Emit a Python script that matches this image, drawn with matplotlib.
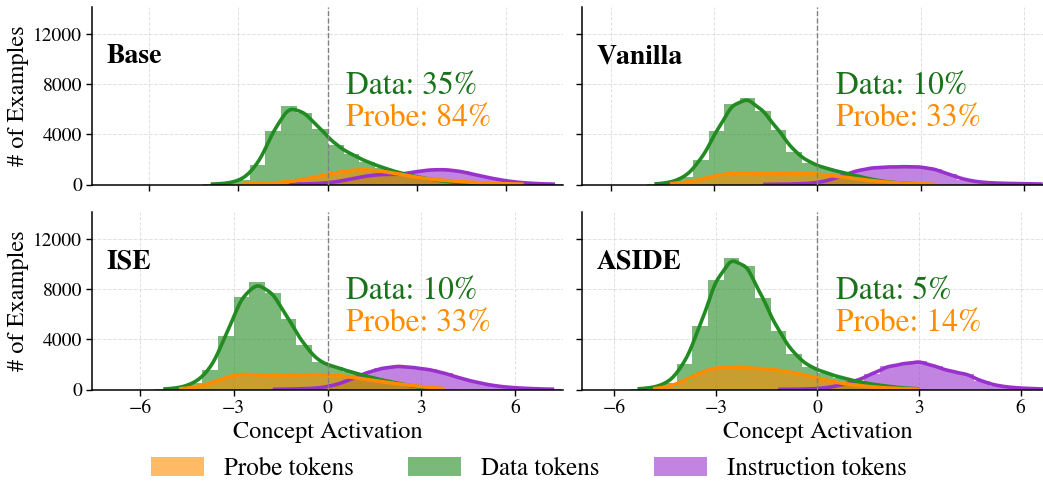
import numpy as np
import pandas as pd
import matplotlib
matplotlib.use("Agg")
import matplotlib.pyplot as plt
from matplotlib.patches import Patch
import seaborn as sns

plt.rcParams["font.family"] = ["STIXGeneral", "DejaVu Serif"]
plt.rcParams["mathtext.fontset"] = "stix"

# ---------------------------------------------------------------------------
# Histogram counts of concept activations per model (common bins per panel)
# ---------------------------------------------------------------------------
models = ["Base", "Vanilla", "ISE", "ASIDE"]
data_rates = ["35%", "10%", "10%", "5%"]
probe_rates = ["84%", "33%", "33%", "14%"]

base_bin_start, base_bin_width = -4.18, 0.525
base_data = [20, 80, 350, 1520, 4270, 6300, 5750, 4460, 3140, 2400, 1800, 1350,
             950, 650, 420, 250, 120, 40, 0, 0, 0, 0, 0]
base_probe = [0, 0, 30, 60, 120, 220, 420, 680, 950, 1150, 1200, 1050, 850,
              600, 420, 330, 230, 150, 90, 50, 25, 0, 0]
base_instr = [0, 0, 0, 0, 0, 20, 40, 80, 200, 450, 700, 820, 780, 1000, 1180,
              1200, 1050, 750, 480, 260, 130, 60, 25]

vanilla_bin_start, vanilla_bin_width = -5.412, 0.451
vanilla_data = [0, 30, 150, 600, 1960, 4250, 6400, 6900, 5900, 4330, 2630, 1750,
                1300, 1000, 700, 400, 200, 100, 40, 0, 0, 0, 0, 0, 0, 0, 0]
vanilla_probe = [0, 0, 50, 150, 400, 750, 920, 920, 850, 880, 930, 880, 780,
                 620, 450, 300, 180, 100, 50, 20, 0, 0, 0, 0, 0, 0, 0]
vanilla_instr = [0, 0, 0, 0, 0, 0, 0, 0, 10, 20, 40, 80, 250, 650, 1100, 1330,
                 1400, 1420, 1420, 1250, 800, 380, 180, 110, 80, 60, 40]

ise_bin_start, ise_bin_width = -5.5, 0.5
ise_data = [30, 120, 500, 1550, 4270, 7410, 8550, 7730, 5630, 3550, 2160, 1800,
            1400, 1050, 750, 500, 250, 80, 0, 0, 0, 0, 0, 0, 0, 0]
ise_probe = [0, 30, 150, 450, 1000, 1280, 1150, 1080, 1120, 1180, 1200, 1150,
             1000, 800, 620, 450, 300, 160, 60, 0, 0, 0, 0, 0, 0, 0]
ise_instr = [0, 0, 0, 0, 0, 0, 0, 10, 30, 60, 120, 350, 800, 1350, 1700, 1880,
             1750, 1600, 1300, 900, 580, 330, 180, 100, 50, 20]

aside_bin_start, aside_bin_width = -5.55, 0.4625
aside_data = [40, 150, 550, 2030, 5070, 8750, 10500, 9900, 7280, 4700, 2830,
              1810, 1350, 950, 650, 420, 250, 120, 50, 0, 0, 0, 0, 0, 0, 0, 0]
aside_probe = [0, 40, 200, 700, 1350, 1780, 1780, 1720, 1680, 1550, 1350, 1050,
               750, 500, 330, 200, 120, 60, 25, 0, 0, 0, 0, 0, 0, 0, 0]
aside_instr = [0, 0, 0, 0, 0, 0, 0, 0, 0, 10, 20, 40, 120, 350, 700, 1250, 1850,
               2050, 2250, 1850, 1450, 1250, 650, 300, 150, 80, 40]

x_limits = [7.89, 6.83, 7.52, 6.95]
y_max = 14180
x_ticks = [-6, -3, 0, 3, 6]
y_ticks = [0, 4000, 8000, 12000]

C_PROBE = "darkorange"
C_DATA = "forestgreen"
C_INSTR = "darkorchid"
C_DATA_TEXT = "#1a721a"

panels = [
    (base_bin_start, base_bin_width, base_instr, base_data, base_probe),
    (vanilla_bin_start, vanilla_bin_width, vanilla_instr, vanilla_data, vanilla_probe),
    (ise_bin_start, ise_bin_width, ise_instr, ise_data, ise_probe),
    (aside_bin_start, aside_bin_width, aside_instr, aside_data, aside_probe),
]

W, H = 1043, 484
fig = plt.figure(figsize=(W / 100, H / 100), dpi=100)

ax_w = 470.4 / W
ax_h = 177.5 / H
lefts = [92.3 / W, 582.3 / W]
bottoms = [(H - 184.5) / H, (H - 389.5) / H]


def draw_panel(ax, start, width, instr, data, probe):
    n = len(data)
    edges = start + width * np.arange(n + 1)
    centers = edges[:-1] + width / 2
    for counts, color in ((instr, C_INSTR), (data, C_DATA), (probe, C_PROBE)):
        counts = np.asarray(counts, dtype=float)
        keep = counts > 0
        frame = pd.DataFrame({"activation": centers[keep], "count": counts[keep]})
        sns.histplot(data=frame, x="activation", weights="count",
                     bins=[float(e) for e in edges],
                     kde=True, ax=ax, color=color, alpha=0.6, linewidth=0,
                     kde_kws=dict(bw_adjust=0.3),
                     line_kws=dict(lw=2.6, solid_capstyle="butt"))


for idx, (start, width, instr, data, probe) in enumerate(panels):
    r, c = divmod(idx, 2)
    ax = fig.add_axes([lefts[c], bottoms[r], ax_w, ax_h])
    ax.set_axisbelow(True)
    draw_panel(ax, start, width, instr, data, probe)

    lim = x_limits[idx]
    ax.set_xlim(-lim, lim)
    ax.set_ylim(0, y_max)
    ax.set_xticks(x_ticks)
    ax.set_yticks(y_ticks)
    ax.grid(True, linestyle="--", color="#cccccc", lw=0.7, alpha=0.6)
    ax.axvline(0, color="gray", ls="--", lw=1.0, zorder=5)

    for s in ("top", "right"):
        ax.spines[s].set_visible(False)
    for s in ("left", "bottom"):
        ax.spines[s].set_linewidth(1.1)
    ax.tick_params(direction="out", length=4.5, width=1.0, labelsize=14, pad=3)

    if r == 1:
        ax.set_xlabel("Concept Activation", fontsize=17.5, labelpad=3)
    else:
        ax.set_xlabel("")
        ax.tick_params(labelbottom=False)
    if c == 0:
        ax.set_ylabel("# of Examples", fontsize=17.5, labelpad=3)
    else:
        ax.set_ylabel("")
        ax.tick_params(labelleft=False)

    ax.text(0.03, 0.72, models[idx], transform=ax.transAxes, fontsize=20,
            fontweight="bold", va="center", ha="left")
    ax.text(0.54, 0.552, f"Data: {data_rates[idx]}", transform=ax.transAxes,
            fontsize=22.8, color=C_DATA_TEXT, va="center", ha="left")
    ax.text(0.54, 0.372, f"Probe: {probe_rates[idx]}", transform=ax.transAxes,
            fontsize=22.8, color=C_PROBE, va="center", ha="left")

handles = [
    Patch(facecolor=C_PROBE, alpha=0.6, label="Probe tokens"),
    Patch(facecolor=C_DATA, alpha=0.6, label="Data tokens"),
    Patch(facecolor=C_INSTR, alpha=0.6, label="Instruction tokens"),
]
fig.legend(handles=handles, loc="center", bbox_to_anchor=(0.507, 0.031),
           ncol=3, frameon=False, fontsize=18, handlelength=2.1,
           handleheight=0.8, columnspacing=2.2, handletextpad=0.8)

fig.savefig("out.png", dpi=100)
